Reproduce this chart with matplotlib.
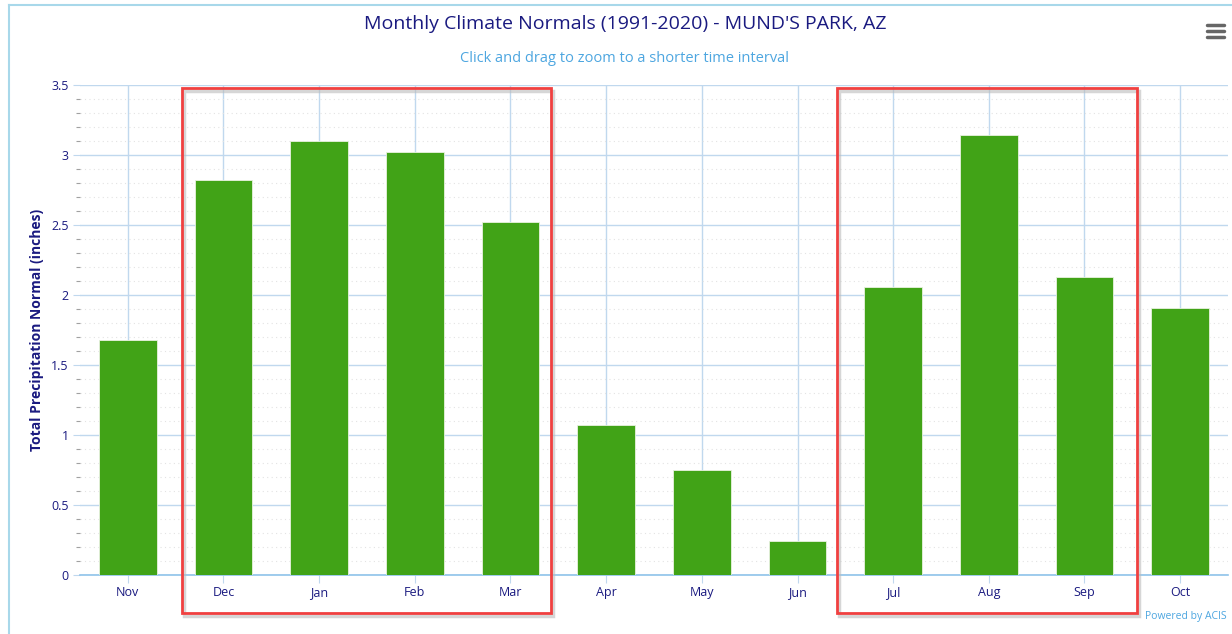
import numpy as np
import matplotlib.pyplot as plt
from matplotlib.patches import Rectangle
from matplotlib.ticker import MultipleLocator

plt.rcParams['font.family'] = ['Open Sans', 'DejaVu Sans']

months = ['Nov', 'Dec', 'Jan', 'Feb', 'Mar', 'Apr', 'May', 'Jun', 'Jul', 'Aug', 'Sep', 'Oct']
precip = [1.68, 2.82, 3.10, 3.02, 2.52, 1.07, 0.75, 0.24, 2.06, 3.14, 2.13, 1.91]
yticks = [0, 0.5, 1, 1.5, 2, 2.5, 3, 3.5]
ytick_labels = ['0', '0.5', '1', '1.5', '2', '2.5', '3', '3.5']

navy = '#1a1a80'
grid_blue = '#c0d8ee'

fig = plt.figure(figsize=(12.32, 6.34), dpi=100)
ax = fig.add_axes([80 / 1232, 1 - 575 / 634, 1148 / 1232, 490 / 634])

x = np.arange(len(months))
ax.bar(x, precip, width=0.6, color='#41a317', edgecolor='#e8f2e0', linewidth=0.6, zorder=3)

ax.set_xlim(-0.5, len(months) - 0.5)
ax.set_ylim(0, 3.5)
ax.set_xticks(x)
ax.set_xticklabels(months, color=navy, fontsize=9)
ax.set_yticks(yticks)
ax.set_yticklabels(ytick_labels, color=navy, fontsize=9)
ax.yaxis.set_minor_locator(MultipleLocator(0.1))

# grids
ax.grid(axis='y', which='major', color=grid_blue, linewidth=1, zorder=0)
ax.grid(axis='y', which='minor', color='#e3e3e3', linewidth=0.8, linestyle=(0, (1, 3)), zorder=0)
ax.grid(axis='x', which='major', color=grid_blue, linewidth=1, zorder=0)

for s in ['top', 'right', 'left']:
    ax.spines[s].set_visible(False)
ax.spines['bottom'].set_color('#8fc3ea')
ax.spines['bottom'].set_linewidth(1.2)

ax.tick_params(axis='x', which='major', length=6, color=grid_blue, pad=2)
ax.tick_params(axis='y', which='major', length=5, color=grid_blue, pad=3)
ax.tick_params(axis='y', which='minor', length=3, color='#a0a0a0', width=0.8)

ax.set_ylabel('Total Precipitation Normal (inches)', color=navy, fontsize=10,
              fontweight='bold', labelpad=5)

fig.text(625 / 1232, 1 - 24 / 634, "Monthly Climate Normals (1991-2020) - MUND'S PARK, AZ",
         ha='center', va='center', color=navy, fontsize=14)
fig.text(625 / 1232, 1 - 58 / 634, 'Click and drag to zoom to a shorter time interval',
         ha='center', va='center', color='#4da6e0', fontsize=10.5)
fig.text(1227 / 1232, 1 - 617 / 634, 'Powered by ACIS', ha='right', va='center',
         color='#4da6e0', fontsize=7.5)

# hamburger menu
for yy in [25, 31, 37]:
    fig.add_artist(plt.Line2D([1207 / 1232, 1224 / 1232], [1 - yy / 634, 1 - yy / 634],
                              color='#666666', linewidth=2.5, solid_capstyle='round'))

# outer container border
fig.add_artist(plt.Line2D([9 / 1232, 9 / 1232], [0, 1 - 5 / 634], color='#a8d8ea', linewidth=1.5))
fig.add_artist(plt.Line2D([9 / 1232, 1], [1 - 5 / 634, 1 - 5 / 634], color='#a8d8ea', linewidth=1.5))

# red highlight boxes
for x0, x1 in [(182, 551), (837, 1137)]:
    y0, y1 = 88, 613
    fig.add_artist(Rectangle((x0 / 1232 + 0.002, 1 - (y1 + 3) / 634), (x1 - x0) / 1232, (y1 - y0) / 634,
                             fill=False, edgecolor='#bbbbbb', linewidth=2.5, alpha=0.6))
    fig.add_artist(Rectangle((x0 / 1232, 1 - y1 / 634), (x1 - x0) / 1232, (y1 - y0) / 634,
                             fill=False, edgecolor='#f04040', linewidth=2))

fig.savefig('out.png', dpi=100)
